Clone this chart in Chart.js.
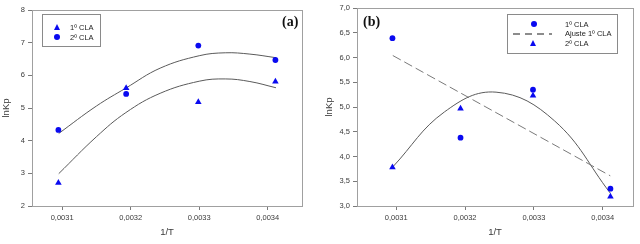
<!DOCTYPE html>
<html lang="es">
<head>
<meta charset="UTF-8">
<title>lnKp frente a 1/T</title>
<script src="https://cdn.jsdelivr.net/npm/chart.js"></script>
<style>
  body { margin: 0; background: #fff; font-family: 'Liberation Sans', Arial, sans-serif; }
  .wrap { position: relative; width: 640px; height: 244px; overflow: hidden; }
  .panel { position: absolute; top: 0; width: 320px; height: 244px; }
  .legend { position: absolute; border: 1px solid #8a8a8a; background: #fff; box-sizing: border-box; }
  .legend .sym { position: absolute; }
  .legend .txt { position: absolute; font-size: 7.5px; line-height: 9px; color: #222; white-space: nowrap; }
  .tri { width: 0; height: 0; border-left: 3.5px solid transparent; border-right: 3.5px solid transparent; border-bottom: 6px solid #0a0af0; }
  .dot { width: 6px; height: 6px; border-radius: 50%; background: #0a0af0; }
  .dash { height: 1.5px; background: repeating-linear-gradient(90deg, #8c8c8c 0 7px, transparent 7px 12px); }
  .tag { position: absolute; font-family: 'Liberation Serif', 'Times New Roman', serif; font-weight: bold; font-size: 14px; line-height: 14px; color: #111; }
</style>
</head>
<body>
<div class="wrap">
  <canvas id="chartA" class="panel" style="left:0" width="320" height="244"></canvas>
  <canvas id="chartB" class="panel" style="left:320px" width="320" height="244"></canvas>

  <div class="tag" style="left:282px; top:15px;">(a)</div>
  <div class="tag" style="left:363px; top:15px;">(b)</div>

  <div class="legend" style="left:42px; top:14px; width:59px; height:33px;">
    <div class="sym tri" style="left:11px; top:9px;"></div>
    <div class="txt" style="left:27px; top:8px;">1º CLA</div>
    <div class="sym dot" style="left:11px; top:19px;"></div>
    <div class="txt" style="left:27px; top:18px;">2º CLA</div>
  </div>

  <div class="legend" style="left:507px; top:14px; width:111px; height:40px;">
    <div class="sym dot" style="left:23px; top:6px;"></div>
    <div class="txt" style="left:57px; top:5px;">1º CLA</div>
    <div class="sym dash" style="left:5px; top:18px; width:39px;"></div>
    <div class="txt" style="left:57px; top:14px;">Ajuste 1º CLA</div>
    <div class="sym tri" style="left:22px; top:25px;"></div>
    <div class="txt" style="left:57px; top:24px;">2º CLA</div>
  </div>
</div>

<script>
  // 1/T of the four temperatures
  const invT = [0.0030945, 0.0031934, 0.0032987, 0.0034112];
  const xTicks = [0.0031, 0.0032, 0.0033, 0.0034];

  // panel (a)
  const lnKpA1 = [2.71, 5.61, 5.18, 5.81];   // 1º CLA, triangles
  const lnKpA2 = [4.33, 5.43, 6.91, 6.47];   // 2º CLA, circles
  const fitXA = [0.003095, 0.00315, 0.003193, 0.003243, 0.0033, 0.003338, 0.003374, 0.003412];
  const fitA1 = [2.99, 4.12, 4.86, 5.45, 5.82, 5.89, 5.81, 5.62];
  const fitA2 = [4.22, 5.06, 5.61, 6.22, 6.60, 6.69, 6.65, 6.54];
  const yTicksA = [2, 3, 4, 5, 6, 7, 8];

  // panel (b)
  const lnKpB1 = [6.39, 4.38, 5.35, 3.35];   // 1º CLA, circles
  const lnKpB2 = [3.78, 4.97, 5.23, 3.19];   // 2º CLA, triangles
  const ajusteX = [0.003095, 0.003411];
  const ajusteB1 = [6.04, 3.61];             // Ajuste 1º CLA
  const fitXB = [0.003095, 0.00317, 0.003245, 0.00333, 0.003411];
  const fitB2 = [3.79, 4.90, 5.30, 4.72, 3.26];
  const yTicksB = [3.0, 3.5, 4.0, 4.5, 5.0, 5.5, 6.0, 6.5, 7.0];

  const BLUE = '#0a0af0', AXIS = '#7a7a7a', TXT = '#3a3a3a';
  const pts = (xs, ys) => xs.map((x, i) => ({ x, y: ys[i] }));

  // light frame round the plot area
  const frame = {
    id: 'frame',
    beforeDatasetsDraw(chart) {
      const { ctx, chartArea: a } = chart;
      ctx.save();
      ctx.strokeStyle = '#a0a0a0';
      ctx.lineWidth = 1;
      ctx.strokeRect(Math.round(a.left) + 0.5, Math.round(a.top) + 0.5, Math.round(a.width), Math.round(a.height));
      ctx.restore();
    }
  };

  function scatterSet(label, data, style, r) {
    return { label, data, showLine: false, pointStyle: style, pointRadius: r,
             pointBackgroundColor: BLUE, pointBorderColor: BLUE, pointBorderWidth: 0 };
  }
  function curveSet(label, data, color, dash) {
    return { label, data, showLine: true, pointRadius: 0, borderColor: color, borderWidth: 1,
             borderDash: dash || [], tension: 0.4, fill: false };
  }

  function makeChart(id, datasets, o) {
    return new Chart(document.getElementById(id), {
      type: 'scatter',
      data: { datasets },
      plugins: [frame],
      options: {
        responsive: false, animation: false, devicePixelRatio: 1,
        layout: { padding: { top: o.top, right: o.right, left: 0, bottom: 0 } },
        plugins: { legend: { display: false }, tooltip: { enabled: false } },
        scales: {
          x: {
            type: 'linear', min: o.xmin, max: o.xmax,
            afterBuildTicks: s => { s.ticks = xTicks.map(v => ({ value: v })); },
            afterFit: s => { s.height = 38; },
            ticks: { autoSkip: false, maxRotation: 0, padding: 3, color: TXT,
                     font: { size: 7.5 }, callback: v => v.toFixed(4).replace('.', ',') },
            grid: { drawOnChartArea: false, tickLength: 4, color: AXIS },
            border: { color: AXIS },
            title: { display: true, text: '1/T', color: TXT, font: { size: 9.5 }, padding: { top: 0, bottom: 6 } }
          },
          y: {
            type: 'linear', min: o.yTicks[0], max: o.yTicks[o.yTicks.length - 1],
            afterBuildTicks: s => { s.ticks = o.yTicks.map(v => ({ value: v })); },
            afterFit: s => { s.width = o.left; },
            ticks: { autoSkip: false, padding: 3, color: TXT, font: { size: 7.5 },
                     callback: o.yFmt },
            grid: { drawOnChartArea: false, tickLength: 4, color: AXIS },
            border: { color: AXIS },
            title: { display: true, text: 'lnKp', color: TXT, font: { size: 9.5 }, padding: { top: o.titlePad, bottom: 0 } }
          }
        }
      }
    });
  }

  makeChart('chartA', [
    scatterSet('1º CLA', pts(invT, lnKpA1), 'triangle', 3.8),
    scatterSet('2º CLA', pts(invT, lnKpA2), 'circle', 2.9),
    curveSet('Ajuste 2º CLA', pts(fitXA, fitA2), '#5a5a5a'),
    curveSet('Ajuste 1º CLA', pts(fitXA, fitA1), '#5a5a5a')
  ], { left: 32, top: 10, right: 18, xmin: 0.003056, xmax: 0.00345, yTicks: yTicksA,
       yFmt: v => String(v), titlePad: 1 });

  makeChart('chartB', [
    scatterSet('1º CLA', pts(invT, lnKpB1), 'circle', 2.9),
    scatterSet('2º CLA', pts(invT, lnKpB2), 'triangle', 3.8),
    curveSet('Ajuste 1º CLA', pts(ajusteX, ajusteB1), '#7a7a7a', [9, 4]),
    curveSet('Ajuste 2º CLA', pts(fitXB, fitB2), '#5a5a5a')
  ], { left: 37, top: 8, right: 7, xmin: 0.003043, xmax: 0.003444, yTicks: yTicksB,
       yFmt: v => v.toFixed(1).replace('.', ','), titlePad: 4 });
</script>
</body>
</html>
